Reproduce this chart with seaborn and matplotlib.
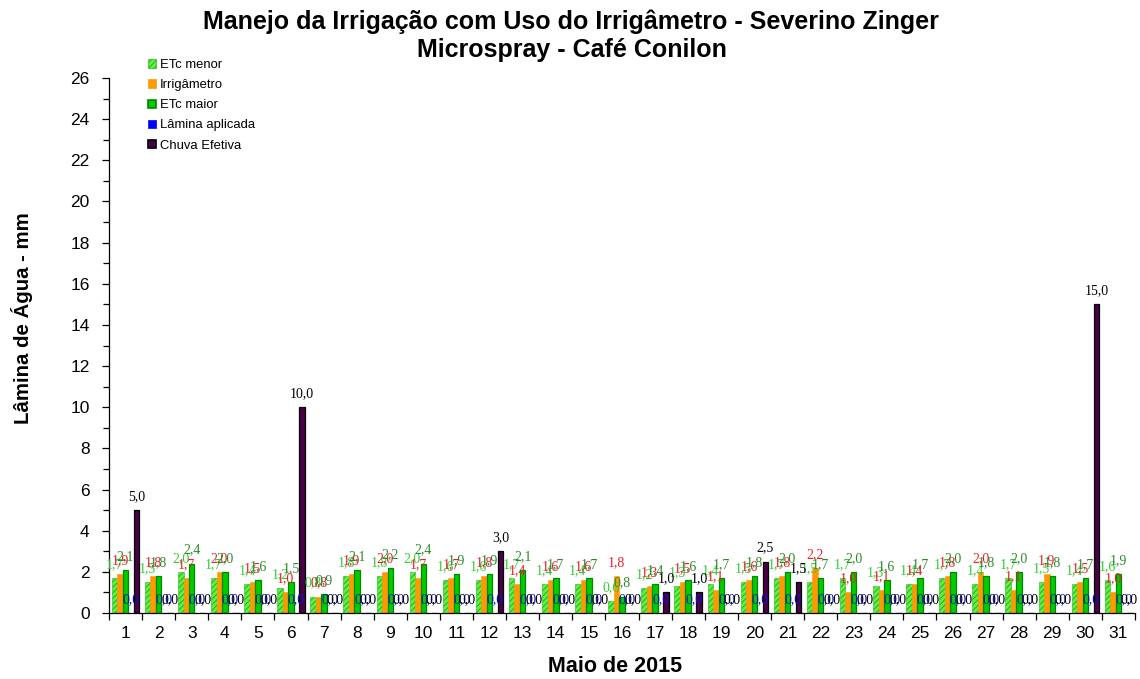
import matplotlib
matplotlib.use("Agg")
import matplotlib.pyplot as plt
from matplotlib.ticker import MultipleLocator, FixedLocator
import pandas as pd
import seaborn as sns

# Daily water depths (mm) for May 2015
days = [str(d) for d in range(1, 32)]
etc_menor = [1.7, 1.5, 2.0, 1.7, 1.4, 1.2, 0.8, 1.8, 1.8, 2.0, 1.6, 1.6, 1.7, 1.4, 1.4, 0.6,
             1.2, 1.3, 1.4, 1.5, 1.7, 1.5, 1.7, 1.3, 1.4, 1.7, 1.4, 1.7, 1.5, 1.4, 1.6]
irrigametro = [1.9, 1.8, 1.7, 2.0, 1.5, 1.0, 0.8, 1.9, 2.0, 1.7, 1.7, 1.8, 1.4, 1.6, 1.6, 1.8,
               1.3, 1.5, 1.1, 1.6, 1.8, 2.2, 1.0, 1.1, 1.4, 1.8, 2.0, 1.1, 1.9, 1.5, 1.0]
etc_maior = [2.1, 1.8, 2.4, 2.0, 1.6, 1.5, 0.9, 2.1, 2.2, 2.4, 1.9, 1.9, 2.1, 1.7, 1.7, 0.8,
             1.4, 1.6, 1.7, 1.8, 2.0, 1.7, 2.0, 1.6, 1.7, 2.0, 1.8, 2.0, 1.8, 1.7, 1.9]
lamina_aplicada = [0.0] * 31
chuva_efetiva = [5.0, 0.0, 0.0, 0.0, 0.0, 10.0, 0.0, 0.0, 0.0, 0.0, 0.0, 3.0, 0.0, 0.0, 0.0, 0.0,
                 1.0, 1.0, 0.0, 2.5, 1.5, 0.0, 0.0, 0.0, 0.0, 0.0, 0.0, 0.0, 0.0, 15.0, 0.0]

series_names = ["ETc menor", "Irrigâmetro", "ETc maior", "Lâmina aplicada", "Chuva Efetiva"]
series_values = [etc_menor, irrigametro, etc_maior, lamina_aplicada, chuva_efetiva]

face_colors = ["#66ee44", "#ff9900", "#00cc00", "#0000ff", "#4a0048"]
edge_colors = ["#22bb22", "#ff9900", "#008800", "#0000ff", "#000000"]
label_colors = ["#33cc33", "#e8202a", "#2a8a2a", "#1010c0", "#000000"]

rows = []
for name, vals in zip(series_names, series_values):
    for d, v in zip(days, vals):
        rows.append({"dia": d, "serie": name, "valor": v})
df = pd.DataFrame(rows)

sns.set_style("white")
plt.rcParams["font.family"] = ["Liberation Sans", "DejaVu Sans"]
plt.rcParams["text.color"] = "black"
plt.rcParams["xtick.color"] = "black"
plt.rcParams["ytick.color"] = "black"
plt.rcParams["hatch.linewidth"] = 0.8

fig = plt.figure(figsize=(11.4, 6.79), dpi=100)
ax = fig.add_axes([109 / 1140, 66 / 679, 1026 / 1140, 535 / 679])

sns.barplot(data=df, x="dia", y="valor", hue="serie", order=days, hue_order=series_names,
            palette=face_colors, width=0.83, saturation=1, errorbar=None, ax=ax,
            legend=False)

for i, cont in enumerate(ax.containers):
    for p in cont.patches:
        p.set_facecolor(face_colors[i])
        p.set_edgecolor(edge_colors[i])
        p.set_linewidth(0.9 if i in (2, 4) else 0.4)
        if i == 0:
            p.set_hatch("//////")
    labels = [f"{v:.1f}".replace(".", ",") for v in series_values[i]]
    ax.bar_label(cont, labels=labels, padding=5, color=label_colors[i],
                 fontsize=10, family="Liberation Serif")

ax.set_xlim(-0.5, 30.5)
ax.set_ylim(0, 26)
ax.yaxis.set_major_locator(MultipleLocator(2))
ax.yaxis.set_minor_locator(MultipleLocator(1))
ax.xaxis.set_minor_locator(FixedLocator([i - 0.5 for i in range(32)]))
ax.tick_params(axis="y", which="major", direction="out", length=5, width=0.9,
               labelsize=12.5, color="black", labelcolor="black", left=True, pad=9)
ax.tick_params(axis="y", which="minor", direction="out", length=4, width=0.9,
               color="black", left=True)
ax.tick_params(axis="x", which="major", length=0, labelsize=12.5, labelcolor="black", pad=9)
ax.tick_params(axis="x", which="minor", direction="out", length=5, width=0.9,
               color="black", bottom=True)
for s in ("top", "right"):
    ax.spines[s].set_visible(False)
for s in ("left", "bottom"):
    ax.spines[s].set_color("black")
    ax.spines[s].set_linewidth(0.9)
ax.set_xlabel("")
ax.set_ylabel("")

handles = [plt.Rectangle((0, 0), 1, 1, facecolor=face_colors[i], edgecolor=edge_colors[i],
                         linewidth=1.2 if i in (2, 4) else 0.5,
                         hatch="//////" if i == 0 else None)
           for i in range(5)]
ax.legend(handles, series_names, loc="upper left", bbox_to_anchor=(0.033, 1.045),
          frameon=False, fontsize=9.4, handlelength=0.6, handleheight=0.6,
          handletextpad=0.3, labelspacing=0.62, borderaxespad=0)

fig.text(571 / 1140, 1 - 22 / 679, "Manejo da Irrigação com Uso do Irrigâmetro - Severino Zinger",
         ha="center", va="center", fontsize=18, fontweight="bold")
fig.text(572 / 1140, 1 - 50 / 679, "Microspray - Café Conilon",
         ha="center", va="center", fontsize=18, fontweight="bold")
fig.text(22 / 1140, 1 - 318 / 679, "Lâmina de Água - mm", rotation=90,
         ha="center", va="center", fontsize=14.7, fontweight="bold")
fig.text(615 / 1140, 1 - 667 / 679, "Maio de 2015",
         ha="center", va="center", fontsize=15.5, fontweight="bold")

fig.savefig("out.png", dpi=100)
